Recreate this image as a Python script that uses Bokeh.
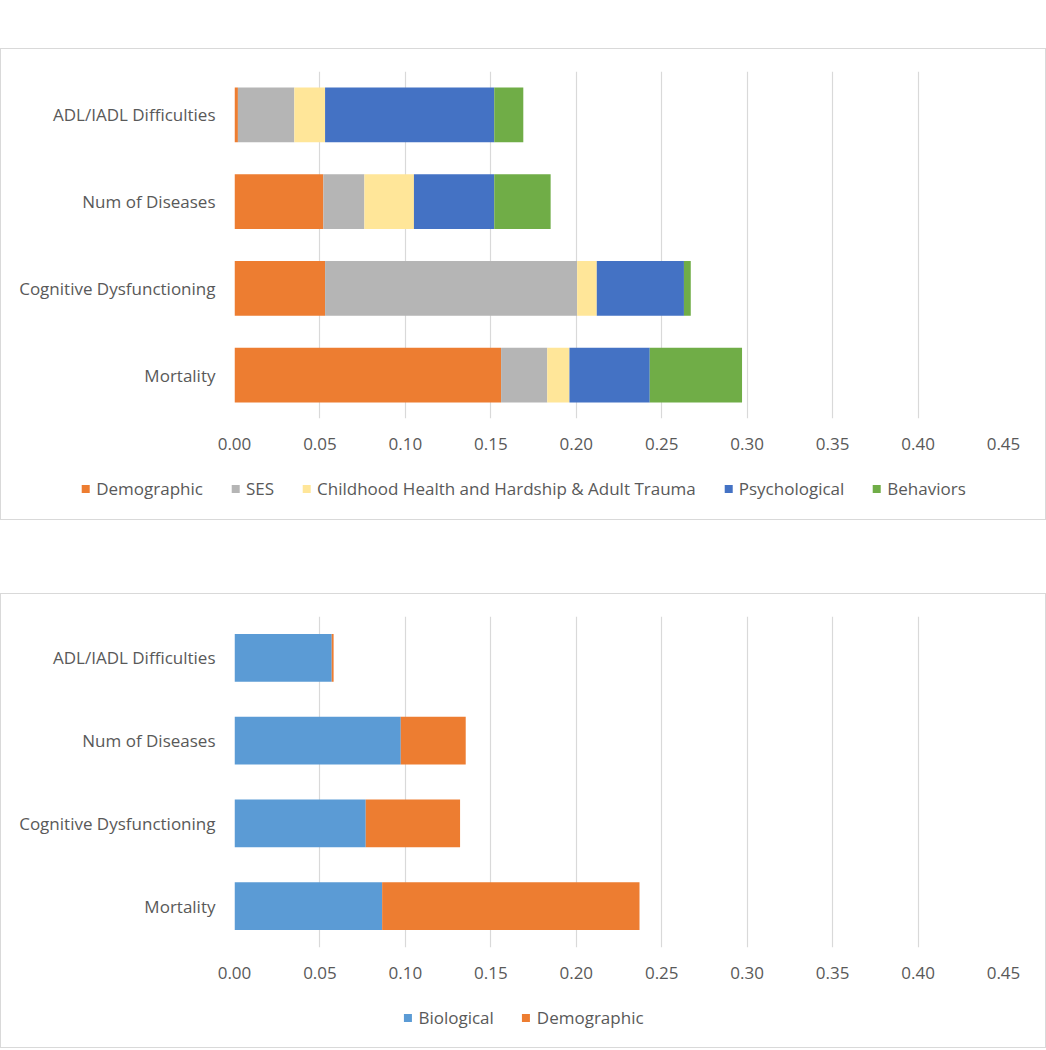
from bokeh.plotting import figure
from bokeh.layouts import column
from bokeh.models import Legend, LegendItem, Spacer, FactorRange, ColumnDataSource, FixedTicker
from bokeh.embed import file_html
from bokeh.resources import INLINE

# ---- data ----
categories = ["Mortality", "Cognitive Dysfunctioning", "Num of Diseases", "ADL/IADL Difficulties"]

top_series = ["Demographic", "SES", "Childhood Health and Hardship & Adult Trauma", "Psychological", "Behaviors"]
top_demographic = [0.156, 0.053, 0.052, 0.002]
top_ses = [0.027, 0.1475, 0.024, 0.033]
top_childhood = [0.013, 0.0115, 0.029, 0.018]
top_psychological = [0.047, 0.051, 0.047, 0.099]
top_behaviors = [0.054, 0.004, 0.033, 0.017]
top_colors = ["#ED7D31", "#B5B5B5", "#FFE699", "#4472C4", "#70AD47"]

bot_series = ["Biological", "Demographic"]
bot_biological = [0.0864, 0.0768, 0.0973, 0.0569]
bot_demographic = [0.1506, 0.0552, 0.038, 0.0011]
bot_colors = ["#5B9BD5", "#ED7D31"]

ticks = [0.0, 0.05, 0.10, 0.15, 0.20, 0.25, 0.30, 0.35, 0.40, 0.45]
tick_labels = ["0.00", "0.05", "0.10", "0.15", "0.20", "0.25", "0.30", "0.35", "0.40", "0.45"]

FONT = "Open Sans"
TXT = "#595959"
FS = "17px"
W = 1044


def make_panel(plot_h, leg_h, tail_h, series, cols, colors, bar_h):
    p = figure(width=W, height=plot_h, y_range=FactorRange(*categories), x_range=(0, 0.45),
               output_backend="svg", toolbar_location=None,
               min_border_left=233, min_border_right=42, min_border_top=22, min_border_bottom=45)
    data = {"cat": categories}
    for s, c in zip(series, cols):
        data[s] = c
    src = ColumnDataSource(data)
    p.hbar_stack(series, y="cat", height=bar_h, color=colors, source=src, line_color=None)
    p.outline_line_color = None
    p.ygrid.grid_line_color = None
    p.xgrid.grid_line_color = "#D9D9D9"
    p.xgrid.grid_line_width = 1.2
    p.xaxis.ticker = FixedTicker(ticks=ticks)
    p.xaxis.major_label_overrides = {t: l for t, l in zip(ticks, tick_labels)}
    for ax in (p.xaxis[0], p.yaxis[0]):
        ax.axis_line_color = None
        ax.major_tick_line_color = None
        ax.minor_tick_line_color = None
        ax.major_tick_out = 0
        ax.major_tick_in = 0
        ax.major_label_text_color = TXT
        ax.major_label_text_font = FONT
        ax.major_label_text_font_size = FS
    p.xaxis.major_label_standoff = 19
    p.yaxis.major_label_standoff = 19

    # legend strip (its own small figure so the legend is not clipped)
    pl = figure(frame_width=W, frame_height=leg_h, x_range=(0, 1), y_range=(0, 1),
                output_backend="svg", toolbar_location=None,
                min_border=0, min_border_left=0, min_border_right=0,
                min_border_top=0, min_border_bottom=0,
                x_axis_location=None, y_axis_location=None)
    pl.grid.grid_line_color = None
    pl.outline_line_color = None
    items = []
    for s, c in zip(series, colors):
        # swatch renderers sit outside the visible range; only their legend entries show
        r = pl.hbar(y=[5], left=[5], right=[6], height=1, color=c, line_color=None)
        items.append(LegendItem(label=s, renderers=[r]))
    leg = Legend(items=items, orientation="horizontal", location="center",
                 label_text_font=FONT, label_text_font_size=FS, label_text_color=TXT,
                 glyph_width=10, glyph_height=10, label_standoff=6, spacing=27,
                 padding=0, margin=0, border_line_color=None, background_fill_alpha=0)
    pl.add_layout(leg, "center")

    return column(p, pl, Spacer(height=tail_h, width=W), spacing=0,
                  styles={"border": "1px solid #D9D9D9"})


box1 = make_panel(414, 50, 6, top_series,
                  [top_demographic, top_ses, top_childhood, top_psychological, top_behaviors],
                  top_colors, 0.634)
box2 = make_panel(398, 50, 5, bot_series,
                  [bot_biological, bot_demographic],
                  bot_colors, 0.577)

layout = column(Spacer(height=48, width=W), box1, Spacer(height=73, width=W), box2, spacing=0)

open("out.html", "w").write(file_html(layout, INLINE))
